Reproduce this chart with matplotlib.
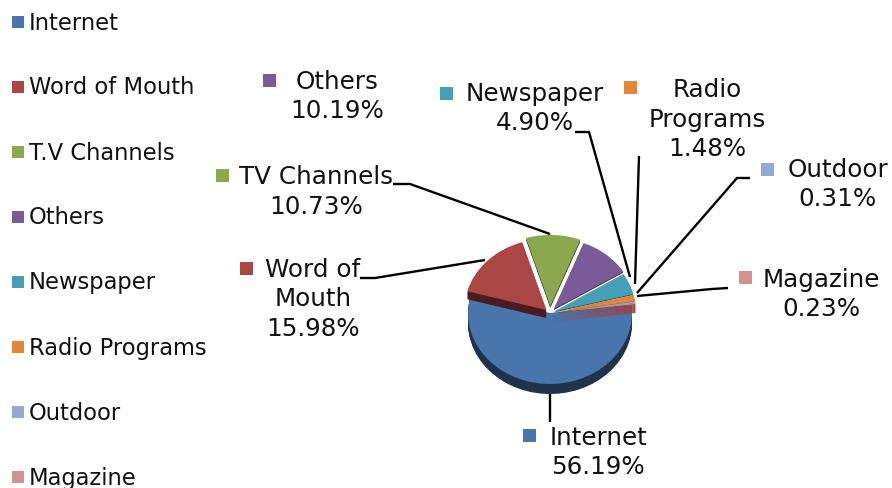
#!/usr/bin/env python3
"""Pie chart of advertising source shares with a leader-line label per slice."""

import colorsys

import matplotlib
matplotlib.use("Agg")
import matplotlib.pyplot as plt
from matplotlib.colors import to_rgb, to_hex
from matplotlib.patches import Rectangle

LEGEND_NAMES = ["Internet", "Word of Mouth", "T.V Channels", "Others",
                "Newspaper", "Radio Programs", "Outdoor", "Magazine"]
SLICE_LABELS = ["Internet", "Word of\nMouth", "TV Channels", "Others",
                "Newspaper", "Radio\nPrograms", "Outdoor", "Magazine"]
SHARES = [56.19, 15.98, 10.73, 10.19, 4.90, 1.48, 0.31, 0.23]
COLORS = ["#4775AC", "#AA4644", "#8BA84E", "#7A5B98",
          "#479FB7", "#E2873A", "#93A9D1", "#D39290"]
EXPLODE = [0, 0.06, 0.10, 0.07, 0.05, 0.05, 0.05, 0.05]

W, H = 892, 488
CX, CY = 550, 313      # pie centre in pixels
RX, RY = 82, 71        # tilted pie radii
DEPTH = 10             # height of the side wall
# wall height and shade per slice; only the front-facing ones really show
WALL_PX = [10, 8, 2, 1, 1, 1, 1, 9]
WALL_SHADE = [0.44, 0.42, 0.45, 0.45, 0.5, 0.5, 0.6, 0.62]


def darker(color, factor):
    h, l, s = colorsys.rgb_to_hls(*to_rgb(color))
    return to_hex(colorsys.hls_to_rgb(h, l * factor, s))


fig = plt.figure(figsize=(W / 100, H / 100), dpi=100, facecolor="white")

# ── Pie, in an axes scaled so one data unit equals the tilted radii ─────────
ax = fig.add_axes([0, 0, 1, 1])


def draw_pie(colors, dy, zorders):
    wedges, _ = ax.pie(SHARES, colors=colors, startangle=7, counterclock=False,
                       explode=EXPLODE, center=(0, dy), radius=1,
                       wedgeprops={"linewidth": 0})
    for wedge, z in zip(wedges, zorders):
        wedge.set_zorder(z)
    return wedges


# side walls first, Internet below the exploded slices
wall_colors = [darker(c, s) for c, s in zip(COLORS, WALL_SHADE)]
for d in range(DEPTH, 0, -1):
    wedges = draw_pie(wall_colors, -d / RY, [1] + [3] * 7)
    for wedge, height in zip(wedges, WALL_PX):
        wedge.set_visible(d <= height)
draw_pie(COLORS, 0, [2] + [4] * 7)

ax.set_aspect("auto")
ax.set_xlim(-CX / RX, (W - CX) / RX)
ax.set_ylim(-(H - CY) / RY, CY / RY)
ax.axis("off")

# ── Overlay in pixel coordinates for legend, labels and leaders ─────────────
ov = fig.add_axes([0, 0, 1, 1], zorder=5)
ov.set_xlim(0, W)
ov.set_ylim(H, 0)
ov.axis("off")
ov.patch.set_alpha(0)

LEGEND_Y = [23, 88, 153, 218, 283, 348, 413, 478]
for name, col, y in zip(LEGEND_NAMES, COLORS, LEGEND_Y):
    ov.add_patch(Rectangle((12, y - 7), 12, 12, facecolor=col, edgecolor="none"))
    ov.text(29, y, name, fontsize=16.3, va="center", ha="left", color="#111111")

# label centre x, first line y, key square x, key square y
LABEL_POS = [(598, 438, 523, 429),
             (313, 270, 240, 262),
             (316, 177, 216, 169),
             (337, 82, 263, 74),
             (535, 94, 440, 87),
             (707, 90, 624, 81),
             (838, 170, 761, 163),
             (821, 280, 739, 271)]
LINE_STEP = 29.5

for label, share, col, (x, y, kx, ky) in zip(SLICE_LABELS, SHARES, COLORS, LABEL_POS):
    lines = label.split("\n") + [f"{share:.2f}%"]
    for i, line in enumerate(lines):
        ov.text(x, y + i * LINE_STEP, line, fontsize=17.7, va="center",
                ha="center", color="#111111")
    ov.add_patch(Rectangle((kx, ky), 13, 13, facecolor=col, edgecolor="none"))

# leader lines from label to slice
LEADERS = [
    [(550, 394), (550, 422)],
    [(485, 260), (375, 278), (360, 278)],
    [(550, 234), (410, 184), (393, 184)],
    [(630, 277), (589, 132), (575, 132)],
    [(635, 284), (639, 156)],
    [(637, 293), (737, 178), (750, 178)],
    [(637, 296), (712, 289), (728, 288)],
]
for pts in LEADERS:
    ov.plot([p[0] for p in pts], [p[1] for p in pts], color="black", lw=1.7,
            solid_joinstyle="miter", solid_capstyle="butt")

fig.savefig("out.png", dpi=100)
